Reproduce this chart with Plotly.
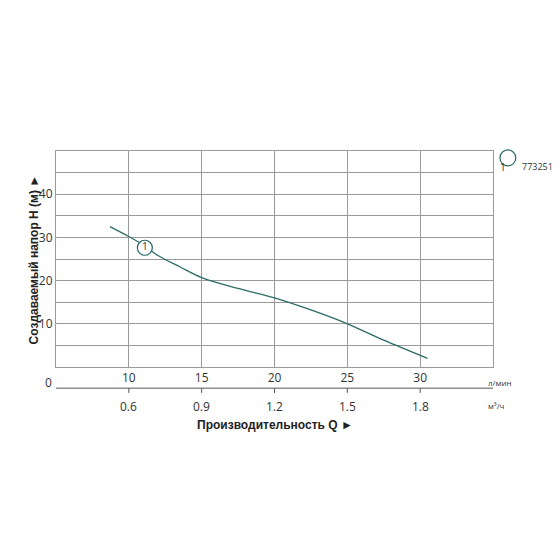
import plotly.graph_objects as go

# curve 773251, Q in л/мин, H in м
q = [8.7, 10, 11, 12, 13.5, 15, 17.5, 20, 22.5, 25, 27.5, 30.5]
h = [32.5, 30.2, 28.2, 25.8, 23.2, 20.7, 18.2, 16.0, 13.2, 10.0, 6.2, 2.0]
q_ticks = [10, 15, 20, 25, 30]
m3_labels = ["0.6", "0.9", "1.2", "1.5", "1.8"]
h_ticks = [10, 20, 30, 40]
name = "773251"

teal = "#2c6b66"
grid = "#9a9a9a"
fnt = "Open Sans, DejaVu Sans, sans-serif"

fig = go.Figure()
fig.add_trace(go.Scatter(x=q, y=h, mode="lines", line=dict(color=teal, width=1.3),
                         line_shape="spline", showlegend=False, hoverinfo="skip"))
fig.add_trace(go.Scatter(x=[11.1], y=[27.6], mode="markers+text", text=["1"],
                         marker=dict(size=15, color="white", line=dict(color=teal, width=1.2)),
                         textfont=dict(size=10, color="#333", family=fnt),
                         showlegend=False, hoverinfo="skip"))

fig.update_xaxes(range=[5, 35], tickvals=q_ticks, showgrid=True, gridcolor=grid, gridwidth=1,
                 showline=True, linecolor=grid, mirror=True, ticks="", zeroline=False,
                 automargin=False, tickfont=dict(size=12, color="#333", family=fnt))
fig.update_yaxes(range=[0, 50], tickvals=[5, 10, 15, 20, 25, 30, 35, 40, 45],
                 ticktext=["", "10", "", "20", "", "30", "", "40", ""],
                 showgrid=True, gridcolor=grid, gridwidth=1, showline=True, linecolor=grid,
                 mirror=True, ticks="", zeroline=False, automargin=False,
                 tickfont=dict(size=12, color="#333", family=fnt))

ann = [dict(x=0.0, y=-0.025, xref="paper", yref="paper", text="0", showarrow=False,
            xanchor="right", yanchor="top", xshift=-2, font=dict(size=12, color="#333", family=fnt)),
       dict(x=0.985, y=-0.035, xref="paper", yref="paper", text="л/мин", showarrow=False,
            xanchor="left", yanchor="top", font=dict(size=8, color="#333", family=fnt)),
       dict(x=0.985, y=-0.145, xref="paper", yref="paper", text="м³/ч", showarrow=False,
            xanchor="left", yanchor="top", font=dict(size=8, color="#333", family=fnt)),
       dict(x=0.5, y=-0.225, xref="paper", yref="paper", text="<b>Производительность Q ►</b>",
            showarrow=False, yanchor="top",
            font=dict(size=12, color="#222", family="Liberation Sans, Arial")),
       dict(x=-0.07, y=0.5, xref="paper", yref="paper", text="<b>Создаваемый напор H (м) ►</b>",
            showarrow=False, textangle=-90,
            font=dict(size=12, color="#222", family="Liberation Sans, Arial")),
       dict(x=1.034, y=0.968, xref="paper", yref="paper", text="1", showarrow=False,
            font=dict(size=10, color="#333", family=fnt)),
       dict(x=1.062, y=0.968, xref="paper", yref="paper", text=name, showarrow=False,
            xanchor="left", font=dict(size=9, color="#333", family=fnt))]
for v, t in zip(q_ticks, m3_labels):
    ann.append(dict(x=v, y=-0.135, xref="x", yref="paper", text=t, showarrow=False,
                    yanchor="top", font=dict(size=12, color="#333", family=fnt)))

shapes = [dict(type="line", xref="paper", yref="paper", x0=0, x1=1, y0=-0.098, y1=-0.098,
               line=dict(color="#555", width=1)),
          dict(type="circle", xref="paper", yref="paper", x0=1.016, x1=1.052, y0=0.931, y1=1.005,
               line=dict(color=teal, width=1.2))]
for v in q_ticks:
    shapes.append(dict(type="line", xref="x", yref="paper", x0=v, x1=v, y0=-0.098, y1=-0.12,
                       line=dict(color="#555", width=1)))

fig.update_layout(width=560, height=560, margin=dict(l=48, r=75, t=143, b=201),
                  plot_bgcolor="white", paper_bgcolor="white",
                  annotations=ann, shapes=shapes)
fig.write_html("out.html")
